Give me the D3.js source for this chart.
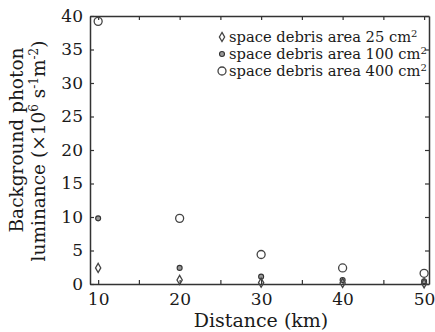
<!DOCTYPE html>
<html>
<head>
<meta charset="utf-8">
<script src="https://cdn.jsdelivr.net/npm/d3@7"></script>
<style>
  body { margin: 0; background: #fff; }
  text { font-family: "DejaVu Serif", serif; fill: #1a1a1a; }
</style>
</head>
<body>
<svg id="chart" width="435" height="332"></svg>
<script>
// distances in km
const distances = [10, 20, 30, 40, 50];
// background photon luminance, x10^6 s^-1 m^-2
const area25 = [2.4, 0.6, 0.2, 0.15, 0.1];
const area100 = [9.8, 2.4, 1.1, 0.6, 0.4];
const area400 = [39.2, 9.8, 4.4, 2.4, 1.6];
const xTicks = [10, 20, 30, 40, 50];
const yTicks = [0, 5, 10, 15, 20, 25, 30, 35, 40];
const legendLabels = ["space debris area 25 cm", "space debris area 100 cm", "space debris area 400 cm"];

const svg = d3.select("#chart");
const plotLeft = 90, plotRight = 429, plotTop = 16, plotBottom = 284;

const x = d3.scaleLinear().domain([9, 50.6]).range([plotLeft, plotRight]);
const y = d3.scaleLinear().domain([0, 40]).range([plotBottom, plotTop]);

const axisColor = "#333";

// bottom axis
svg.append("g").attr("transform", "translate(0," + plotBottom + ")")
  .call(d3.axisBottom(x).tickValues(xTicks).tickSizeInner(-4).tickSizeOuter(0).tickPadding(9).tickFormat(d3.format("d")));
// minor ticks
svg.append("g").attr("transform", "translate(0," + plotBottom + ")")
  .call(d3.axisBottom(x).tickValues([15, 25, 35, 45]).tickSizeInner(-4).tickSizeOuter(0).tickFormat(""))
  .select(".domain").remove();
// top axis
svg.append("g").attr("transform", "translate(0," + plotTop + ")")
  .call(d3.axisTop(x).tickValues([10, 15, 20, 25, 30, 35, 40, 45, 50]).tickSizeInner(-4).tickSizeOuter(0).tickFormat(""));

// left axis
svg.append("g").attr("transform", "translate(" + plotLeft + ",0)")
  .call(d3.axisLeft(y).tickValues(yTicks).tickSizeInner(-4).tickSizeOuter(0).tickPadding(7));
// right axis
svg.append("g").attr("transform", "translate(" + plotRight + ",0)")
  .call(d3.axisRight(y).tickValues(yTicks).tickSizeInner(-4).tickSizeOuter(0).tickFormat(""));

svg.selectAll(".domain").attr("stroke", axisColor).attr("stroke-width", 1.5);
svg.selectAll(".tick line").attr("stroke", axisColor).attr("stroke-width", 1.2);
svg.selectAll(".tick text").style("font-family", "DejaVu Serif").style("font-size", "17px").attr("fill", "#1a1a1a");

// markers
const diamond = d3.symbol().type(d3.symbolDiamond).size(24);

function drawMarker(g, cx, cy, kind) {
  if (kind === 0) {
    g.append("path").attr("d", diamond).attr("transform", "translate(" + cx + "," + cy + ")")
      .attr("fill", "none").attr("stroke", "#444").attr("stroke-width", 1.3);
  } else if (kind === 1) {
    g.append("circle").attr("cx", cx).attr("cy", cy).attr("r", 2.5)
      .attr("fill", "#999").attr("stroke", "#333").attr("stroke-width", 1.1);
  } else {
    g.append("circle").attr("cx", cx).attr("cy", cy).attr("r", 4)
      .attr("fill", "none").attr("stroke", "#444").attr("stroke-width", 1.3);
  }
}

function drawSeries(vals, kind) {
  const g = svg.append("g");
  vals.forEach((v, i) => drawMarker(g, x(distances[i]), y(v), kind));
}

drawSeries(area400, 2);
drawSeries(area100, 1);
drawSeries(area25, 0);

// legend
const legend = svg.append("g");
legendLabels.forEach((lab, i) => {
  const ly = 37 + i * 17;
  drawMarker(legend, 222, ly, i);
  const t = legend.append("text").attr("x", 229).attr("y", ly + 5).style("font-size", "14.7px");
  t.append("tspan").text(lab);
  t.append("tspan").attr("baseline-shift", "super").style("font-size", "10px").text("2");
});

// x label
svg.append("text").attr("x", 261).attr("y", 327).attr("text-anchor", "middle")
  .style("font-size", "19px").text("Distance (km)");

// y label
svg.append("text").attr("transform", "translate(17,140) rotate(-90)")
  .attr("text-anchor", "middle").attr("dy", "0.35em").style("font-size", "18.5px")
  .text("Background photon");
const yl2 = svg.append("text").attr("transform", "translate(39,151) rotate(-90)")
  .attr("text-anchor", "middle").attr("dy", "0.35em").style("font-size", "18.5px");
yl2.append("tspan").text("luminance (×10");
yl2.append("tspan").attr("baseline-shift", "super").style("font-size", "12px").text("6");
yl2.append("tspan").text(" s");
yl2.append("tspan").attr("baseline-shift", "super").style("font-size", "12px").text("-1");
yl2.append("tspan").text("m");
yl2.append("tspan").attr("baseline-shift", "super").style("font-size", "12px").text("-2");
yl2.append("tspan").text(")");
</script>
</body>
</html>
